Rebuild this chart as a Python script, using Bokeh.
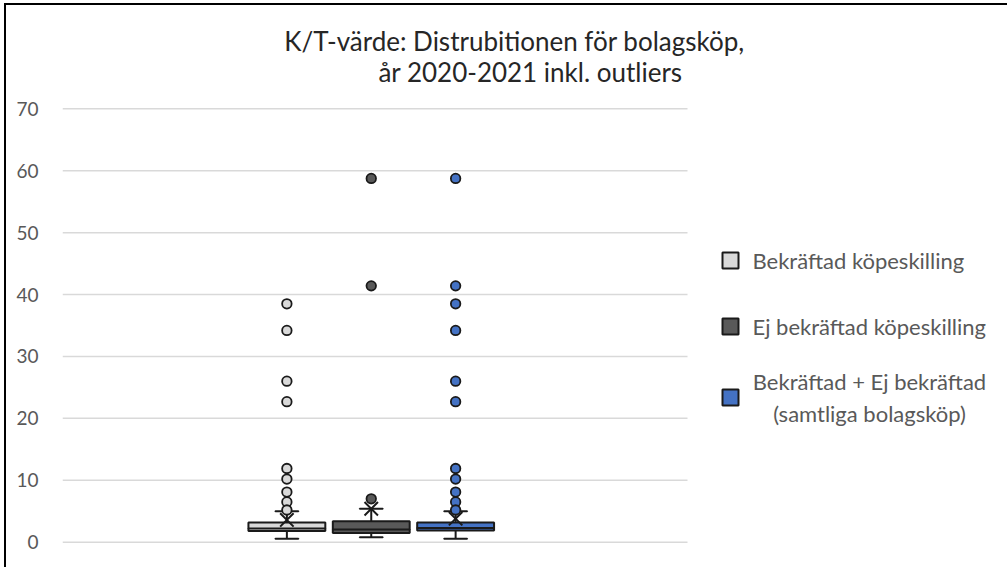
from bokeh.plotting import figure
from bokeh.models import Range1d, FixedTicker, ColumnDataSource
from bokeh.core.properties import value
from bokeh.embed import file_html
from bokeh.resources import INLINE

# ---- data ----
series = ["Bekräftad köpeskilling", "Ej bekräftad köpeskilling",
          "Bekräftad + Ej bekräftad\n(samtliga bolagsköp)"]
colors = ["#d9d9d9", "#595959", "#4472c4"]
whisker_low = [0.55, 0.8, 0.55]
q1 = [1.8, 1.5, 1.9]
median = [2.2, 2.05, 2.3]
q3 = [3.2, 3.4, 3.2]
whisker_high = [5.0, 5.4, 5.0]
mean = [3.6, 5.4, 3.8]
outliers = [
    [38.5, 34.2, 26.0, 22.7, 11.9, 10.2, 8.1, 6.5, 5.2],
    [58.75, 41.4, 7.0],
    [58.75, 41.4, 38.5, 34.2, 26.0, 22.7, 11.9, 10.2, 8.1, 6.5, 5.2],
]
y_ticks = [0, 10, 20, 30, 40, 50, 60, 70]
title_lines = ["K/T-värde: Distrubitionen för bolagsköp,", "år 2020-2021 inkl. outliers"]

# ---- layout constants (pixels) ----
W, H = 1007, 567
FONT = "Lato"
LEFT = 62                 # frame left edge
PLOT_RIGHT = 687          # end of plotting area / grid lines
Y0_PX, Y70_PX = 541.7, 108.3
ppu_y = (Y0_PX - Y70_PX) / 70.0
ppu_x = PLOT_RIGHT - LEFT  # x data 0..1 -> plotting area


def xd(px):
    return (px - LEFT) / ppu_x


def yd(py):
    return (Y0_PX - py) / ppu_y


group_center = 0.494
spacing = 0.135
box_w = 0.123
cap_w = 0.037
xs = [group_center + (i - 1) * spacing for i in range(len(series))]

p = figure(width=W, height=H, output_backend="svg", toolbar_location=None,
           x_range=Range1d(xd(LEFT), xd(W)), y_range=Range1d(yd(H), yd(0)),
           min_border_left=LEFT, min_border_right=0, min_border_top=0,
           min_border_bottom=0, title=None)
p.styles = {"background": "linear-gradient(#000,#000) 4px 3px / 2px 100% no-repeat, "
                          "linear-gradient(#000,#000) 4px 3px / 100% 2px no-repeat, #fff"}
p.outline_line_color = None
p.background_fill_alpha = 0
p.border_fill_alpha = 0

p.xaxis.visible = False
p.xgrid.visible = False
p.ygrid.visible = False
p.yaxis.ticker = FixedTicker(ticks=y_ticks)
p.yaxis.axis_line_color = None
p.yaxis.major_tick_line_color = None
p.yaxis.minor_tick_line_color = None
p.yaxis.major_label_text_font = FONT
p.yaxis.major_label_text_font_size = "19px"
p.yaxis.major_label_text_color = "#595959"
p.yaxis.major_label_standoff = 18

# horizontal grid lines across the plotting area only
grid_src = ColumnDataSource(dict(y=y_ticks, x0=[0.0] * len(y_ticks), x1=[1.0] * len(y_ticks)))
p.segment(x0="x0", y0="y", x1="x1", y1="y", source=grid_src, line_color="#d9d9d9", line_width=1.5)

for i, name in enumerate(series):
    box_src = ColumnDataSource(dict(x=[xs[i]], q1=[q1[i]], q3=[q3[i]], med=[median[i]],
                                    lo=[whisker_low[i]], hi=[whisker_high[i]], mean=[mean[i]]))
    p.segment(x0="x", y0="lo", x1="x", y1="q1", source=box_src, line_color="#1a1a1a", line_width=2)
    p.segment(x0="x", y0="q3", x1="x", y1="hi", source=box_src, line_color="#1a1a1a", line_width=2)
    p.rect(x="x", y="lo", width=cap_w, height=0.001, source=box_src, fill_color=None,
           line_color="#1a1a1a", line_width=2)
    p.rect(x="x", y="hi", width=cap_w, height=0.001, source=box_src, fill_color=None,
           line_color="#1a1a1a", line_width=2)
    p.vbar(x="x", bottom="q1", top="q3", width=box_w, source=box_src,
           fill_color=colors[i], line_color="#1a1a1a", line_width=2)
    p.rect(x="x", y="med", width=box_w, height=0.001, source=box_src, fill_color=None,
           line_color="#1a1a1a", line_width=2)
    out_src = ColumnDataSource(dict(x=[xs[i]] * len(outliers[i]), y=outliers[i]))
    p.scatter(x="x", y="y", source=out_src, marker="circle", size=9.5,
              fill_color=colors[i], line_color="#1a1a1a", line_width=1.8)
    p.scatter(x="x", y="mean", source=box_src, marker="x", size=19,
              line_color="#1a1a1a", line_width=2)

# ---- legend (drawn by hand to match the layout) ----
legend_sq_x = 730
legend_text_x = 752
legend_text_center_x = 869
legend_y = [260, 326, 397]
leg_src = ColumnDataSource(dict(x=[xd(legend_sq_x)] * 3, y=[yd(v) for v in legend_y], c=colors))
p.scatter(x="x", y="y", source=leg_src, marker="square", size=16, fill_color="c",
          line_color="#1a1a1a", line_width=2)
single = ColumnDataSource(dict(x=[xd(legend_text_x)] * 2, y=[yd(v) for v in legend_y[:2]],
                               t=series[:2]))
p.text(x="x", y="y", text="t", source=single, text_font=value(FONT), text_font_size="22px",
       text_color="#595959", text_align="left", text_baseline="middle")
multi = ColumnDataSource(dict(x=[xd(legend_text_center_x)], y=[yd(legend_y[2])], t=[series[2]]))
p.text(x="x", y="y", text="t", source=multi, text_font=value(FONT), text_font_size="22px",
       text_color="#595959", text_align="center", text_baseline="middle", text_line_height=1.2)

# ---- title ----
title_src = ColumnDataSource(dict(x=[xd(514), xd(530)], y=[yd(40), yd(71)], t=title_lines))
p.text(x="x", y="y", text="t", source=title_src, text_font=value(FONT), text_font_size="26px",
       text_color="#262626", text_align="center", text_baseline="middle")

open("out.html", "w").write(file_html(p, INLINE))
